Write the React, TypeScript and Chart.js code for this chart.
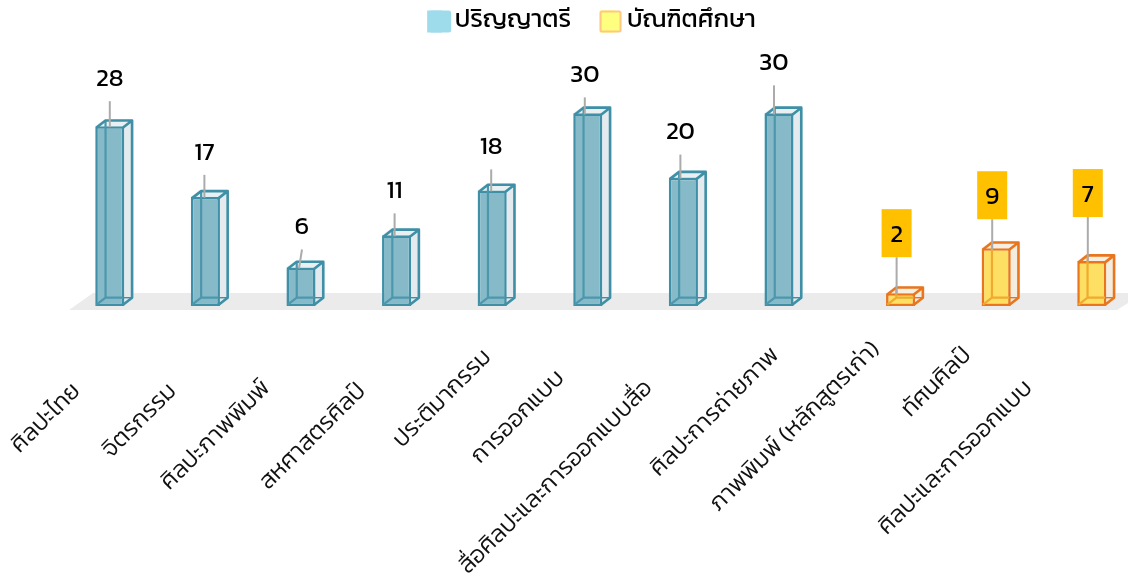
import React, { useEffect, useRef } from "react";
import { Chart, registerables } from "chart.js";

Chart.register(...registerables);

const FONT = 'Kanit, "Noto Sans", sans-serif';

const categories = [
  "ศิลปะไทย",
  "จิตรกรรม",
  "ศิลปะภาพพิมพ์",
  "สหศาสตรศิลป์",
  "ประติมากรรม",
  "การออกแบบ",
  "สื่อศิลปะและการออกแบบสื่อ",
  "ศิลปะการถ่ายภาพ",
  "ภาพพิมพ์ (หลักสูตรเก่า)",
  "ทัศนศิลป์",
  "ศิลปะและการออกแบบ",
];
const seriesNames = ["ปริญญาตรี", "บัณฑิตศึกษา"];
const bachelor = [28, 17, 6, 11, 18, 30, 20, 30, null, null, null];
const graduate = [null, null, null, null, null, null, null, null, 2, 9, 7];

// callout length above each bar, its foot offset and its lean
const leaderLengths = [25, 22, 18, 22, 21, 16, 23, 28, 36, 29, 44];
const leaderDx = [0, -1, -2, -2, -1, -3, -3, -5, -4, -4, -4];
const leaderLean = [0, 0, 3, 0, 0, 0, 0, 0, 0, 0, 0];
// end of each rotated category label relative to the tick / axis base
const labelDx = [-45.5, -45, -47, -47, -17, -39.5, -47, -16, -11, -15, -49.5];
const labelDy = [82, 82, 79, 82, 48, 69, 79, 46, 40, 46, 79];

const DEPTH_X = 9;
const DEPTH_Y = 7;

const TEAL = { line: "#3F90A6", inner: "#4C97AC", side: "#E4EAED", top: "#EAF0F2" };
const ORANGE = { line: "#E9761E", inner: "#F0AA30", side: "rgba(243,235,220,0.92)", top: "#F7EFE2" };
const SWATCHES = [
  { fill: "#9FDCEB", stroke: "#9FDCEB", width: 0, dx: 2 },
  { fill: "#FFFF7F", stroke: "#FFC77F", width: 2, dx: 0 },
];

const poly = (ctx: CanvasRenderingContext2D, pts: number[][]) => {
  ctx.beginPath();
  pts.forEach((p, i) => (i ? ctx.lineTo(p[0], p[1]) : ctx.moveTo(p[0], p[1])));
  ctx.closePath();
};

const forEachBar = (chart: any, fn: (el: any, value: number, i: number, ds: number) => void) => {
  chart.data.datasets.forEach((d: any, ds: number) => {
    chart.getDatasetMeta(ds).data.forEach((el: any, i: number) => {
      if (d.data[i] !== null) fn(el, d.data[i], i, ds);
    });
  });
};

const box3d = {
  id: "box3d",
  beforeDatasetsDraw(chart: any) {
    const { ctx, chartArea } = chart;
    const b = chartArea.bottom;
    ctx.save();
    ctx.fillStyle = "#EBEBEB";
    poly(ctx, [
      [69, b + 4],
      [93, b - 13],
      [1128, b - 13],
      [1128, b - 3],
      [1117, b + 4],
    ]);
    ctx.fill();
    forEachBar(chart, (el, _v, _i, ds) => {
      const c = ds === 0 ? TEAL : ORANGE;
      const l = el.x - el.width / 2;
      const r = el.x + el.width / 2;
      ctx.fillStyle = c.side;
      poly(ctx, [
        [r, el.y],
        [r + DEPTH_X, el.y - DEPTH_Y],
        [r + DEPTH_X, el.base - DEPTH_Y],
        [r, el.base],
      ]);
      ctx.fill();
      ctx.fillStyle = c.top;
      poly(ctx, [
        [l, el.y],
        [l + DEPTH_X, el.y - DEPTH_Y],
        [r + DEPTH_X, el.y - DEPTH_Y],
        [r, el.y],
      ]);
      ctx.fill();
    });
    ctx.restore();
  },
  afterDatasetsDraw(chart: any) {
    const { ctx, chartArea, scales } = chart;
    ctx.save();
    ctx.lineJoin = "round";
    forEachBar(chart, (el, _v, _i, ds) => {
      const c = ds === 0 ? TEAL : ORANGE;
      const inset = 1.3;
      const l = el.x - el.width / 2 + inset;
      const r = el.x + el.width / 2 - inset;
      const t = el.y + inset;
      const bt = el.base - inset;
      ctx.lineWidth = 2.2;
      ctx.strokeStyle = c.inner;
      ctx.beginPath();
      ctx.moveTo(l + DEPTH_X, t - DEPTH_Y);
      ctx.lineTo(l + DEPTH_X, bt - DEPTH_Y);
      ctx.lineTo(r, bt - DEPTH_Y);
      ctx.moveTo(l, bt);
      ctx.lineTo(l + DEPTH_X, bt - DEPTH_Y);
      ctx.stroke();
      ctx.lineWidth = 2.6;
      ctx.strokeStyle = c.line;
      ctx.beginPath();
      ctx.moveTo(l, t);
      ctx.lineTo(l + DEPTH_X, t - DEPTH_Y);
      ctx.lineTo(r + DEPTH_X, t - DEPTH_Y);
      ctx.lineTo(r + DEPTH_X, bt - DEPTH_Y);
      ctx.lineTo(r, bt);
      ctx.moveTo(r, t);
      ctx.lineTo(r + DEPTH_X, t - DEPTH_Y);
      ctx.stroke();
      ctx.lineWidth = 1.4;
      ctx.strokeStyle = c.line;
      ctx.beginPath();
      ctx.moveTo(r + DEPTH_X, bt - DEPTH_Y);
      ctx.lineTo(r, bt - DEPTH_Y);
      ctx.stroke();
    });
    // callouts and values
    forEachBar(chart, (el, v, i, ds) => {
      const topY = el.y - leaderLengths[i];
      const cx = el.x + leaderDx[i];
      const tipX = cx + leaderLean[i];
      ctx.strokeStyle = "#ABABAB";
      ctx.lineWidth = 2;
      ctx.beginPath();
      ctx.moveTo(cx, el.y + 1);
      ctx.lineTo(tipX, topY);
      ctx.stroke();
      const labelY = topY - 21;
      if (ds === 1) {
        ctx.fillStyle = "#FFC000";
        ctx.fillRect(tipX - 15, topY - 48, 30, 48);
      }
      ctx.fillStyle = "#000";
      ctx.font = `400 25px ${FONT}`;
      ctx.textAlign = "center";
      ctx.textBaseline = "middle";
      ctx.fillText(String(v), tipX, labelY);
    });
    // rotated category labels, placed from the category scale
    const xs = scales.x;
    ctx.fillStyle = "#111";
    ctx.font = `300 24px ${FONT}`;
    ctx.textAlign = "right";
    ctx.textBaseline = "middle";
    chart.data.labels.forEach((lab: string, i: number) => {
      ctx.save();
      ctx.translate(xs.getPixelForValue(i) + labelDx[i], chartArea.bottom + labelDy[i]);
      ctx.rotate(-Math.PI / 4);
      ctx.fillText(lab, 0, 0);
      ctx.restore();
    });
    ctx.restore();
  },
  afterDraw(chart: any) {
    // full-size legend swatches over the library's narrower key boxes
    const { ctx, legend } = chart;
    ctx.save();
    legend.legendHitBoxes.forEach((h: any, i: number) => {
      const s = SWATCHES[i];
      const y = h.top + h.height / 2 - 11;
      ctx.fillStyle = s.fill;
      ctx.beginPath();
      ctx.roundRect(h.left + 1 + s.dx, y + 1, 20, 20, 1.5);
      ctx.fill();
      ctx.strokeStyle = s.width ? s.stroke : s.fill;
      ctx.lineWidth = 2;
      ctx.stroke();
    });
    ctx.restore();
  },
};

export default function App() {
  const ref = useRef<HTMLCanvasElement>(null);
  useEffect(() => {
    const chart = new Chart(ref.current!, {
      type: "bar",
      data: {
        labels: categories,
        datasets: [
          {
            label: seriesNames[0],
            data: bachelor,
            backgroundColor: "#86BAC9",
            borderColor: TEAL.line,
            borderWidth: 2.6,
            borderSkipped: false,
          },
          {
            label: seriesNames[1],
            data: graduate,
            backgroundColor: "#FDDF63",
            borderColor: ORANGE.line,
            borderWidth: 2.6,
            borderSkipped: false,
          },
        ] as any,
      },
      options: {
        responsive: false,
        animation: false,
        devicePixelRatio: 1,
        categoryPercentage: 0.544,
        barPercentage: 1.12,
        layout: { padding: { left: 56.4, right: 1.4, top: -19.5, bottom: 272 } },
        plugins: {
          tooltip: { enabled: false },
          legend: {
            display: true,
            position: "top",
            maxHeight: 72,
            labels: {
              boxWidth: 15,
              boxHeight: 22,
              padding: 28.5,
              color: "#111",
              font: { family: FONT, size: 25, weight: "400" },
              generateLabels: () =>
                seriesNames.map((text, i) => ({
                  text,
                  fillStyle: SWATCHES[i].fill,
                  strokeStyle: SWATCHES[i].stroke,
                  lineWidth: 0,
                  datasetIndex: i,
                })),
            },
          },
        },
        scales: {
          x: { display: false, grid: { display: false } },
          y: {
            display: true,
            min: 0,
            max: 40.8,
            grid: { display: false },
            border: { display: false },
            ticks: { display: false },
            afterFit(scale: any) {
              scale.width = 18.6;
            },
          },
        },
      } as any,
      plugins: [box3d],
    });
    return () => chart.destroy();
  }, []);
  return (
    <canvas
      ref={ref}
      width={1128}
      height={578}
      style={{ position: "fixed", left: 0, top: 0, width: 1128, height: 578 }}
    />
  );
}
